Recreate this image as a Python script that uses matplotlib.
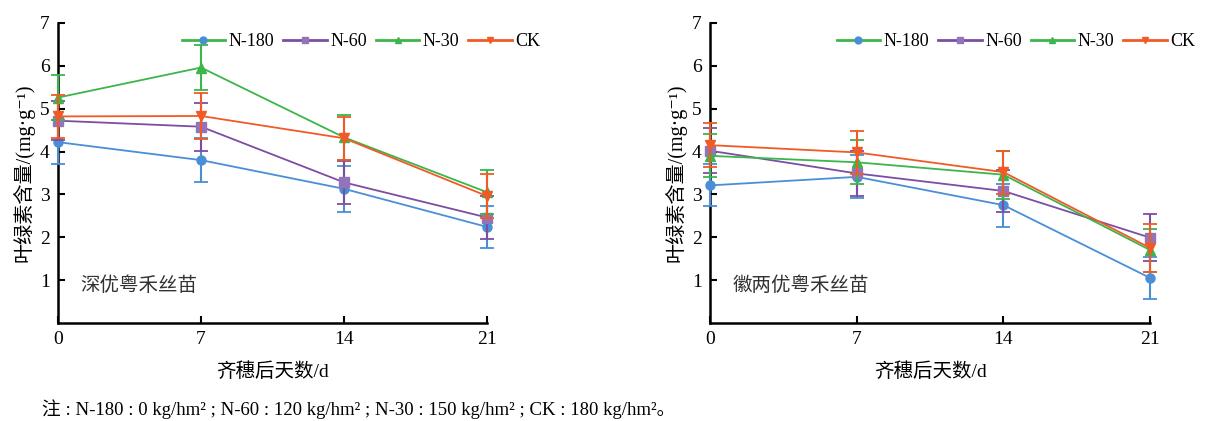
import matplotlib.pyplot as plt
from matplotlib.lines import Line2D

plt.rcParams['font.family'] = ['Liberation Serif', 'Noto Sans CJK SC', 'DejaVu Serif']

days = [0, 7, 14, 21]
series = ['N-180', 'N-60', 'N-30', 'CK']
colors = ['#4a8fd6', '#7b4ea3', '#3cb54a', '#f15a24']
face = ['#4a8fd6', '#9474b8', '#3cb54a', '#f15a24']
markers = ['o', 's', '^', 'v']

# 深优粤禾丝苗
left_vals = [[4.22, 3.80, 3.13, 2.24],
             [4.72, 4.58, 3.28, 2.46],
             [5.26, 5.96, 4.33, 3.05],
             [4.82, 4.83, 4.31, 2.96]]
left_err = [[0.51, 0.52, 0.54, 0.50],
            [0.45, 0.56, 0.51, 0.51],
            [0.52, 0.52, 0.52, 0.51],
            [0.50, 0.53, 0.50, 0.52]]

# 徽两优粤禾丝苗
right_vals = [[3.21, 3.41, 2.75, 1.05],
              [4.02, 3.49, 3.08, 1.99],
              [3.90, 3.75, 3.46, 1.70],
              [4.15, 3.98, 3.52, 1.75]]
right_err = [[0.49, 0.50, 0.50, 0.50],
             [0.52, 0.53, 0.49, 0.55],
             [0.50, 0.51, 0.56, 0.50],
             [0.52, 0.51, 0.50, 0.56]]

fig = plt.figure(figsize=(12.23, 4.21), dpi=100)
ax1 = fig.add_axes([0.0474, 0.2328, 0.351, 0.7126])
ax2 = fig.add_axes([0.5805, 0.2328, 0.360, 0.7126])


def draw(ax, vals, errs, name, legx):
    for i in range(len(series)):
        ax.errorbar(days, vals[i], yerr=errs[i], color=colors[i], marker=markers[i],
                    markerfacecolor=face[i], markeredgecolor=face[i], markersize=6.5,
                    linewidth=1.3, elinewidth=1.5, capsize=5, capthick=1.3, clip_on=False,
                    zorder=3 + i)
    ax.set_xlim(0, 21)
    ax.set_ylim(0, 7)
    ax.set_xticks(days)
    ax.set_yticks([1, 2, 3, 4, 5, 6, 7])
    for s in ['top', 'right']:
        ax.spines[s].set_visible(False)
    for s in ['left', 'bottom']:
        ax.spines[s].set_linewidth(1.8)
    ax.tick_params(direction='in', length=5, width=1.5, labelsize=14, pad=6)
    ax.set_xlabel('齐穗后天数/d', fontsize=14, labelpad=10)
    ax.set_ylabel('叶绿素含量/(mg·g⁻¹)', fontsize=14.5, labelpad=4)
    ax.text(1.1, 0.86, name, fontsize=14, va='center', color='#333333')

    handles = [Line2D([], [], color=colors[2], marker='o', markerfacecolor=face[0],
                      markeredgecolor=face[0], markersize=5, linewidth=2)]
    for i in range(1, 4):
        handles.append(Line2D([], [], color=colors[i], marker=markers[i],
                              markerfacecolor=face[i], markeredgecolor=face[i],
                              markersize=5, linewidth=2))
    ax.legend(handles, series, loc='upper center', bbox_to_anchor=(legx, 1.02), ncol=4,
              frameon=False, fontsize=13, handlelength=2.4, handletextpad=0.2,
              columnspacing=0.5)


draw(ax1, left_vals, left_err, '深优粤禾丝苗', 0.706)
draw(ax2, right_vals, right_err, '徽两优粤禾丝苗', 0.695)

fig.text(0.034, 0.015,
         '注 : N-180 : 0 kg/hm² ; N-60 : 120 kg/hm² ; N-30 : 150 kg/hm² ; CK : 180 kg/hm²。',
         fontsize=13.5)

fig.savefig('out.png', dpi=100)
